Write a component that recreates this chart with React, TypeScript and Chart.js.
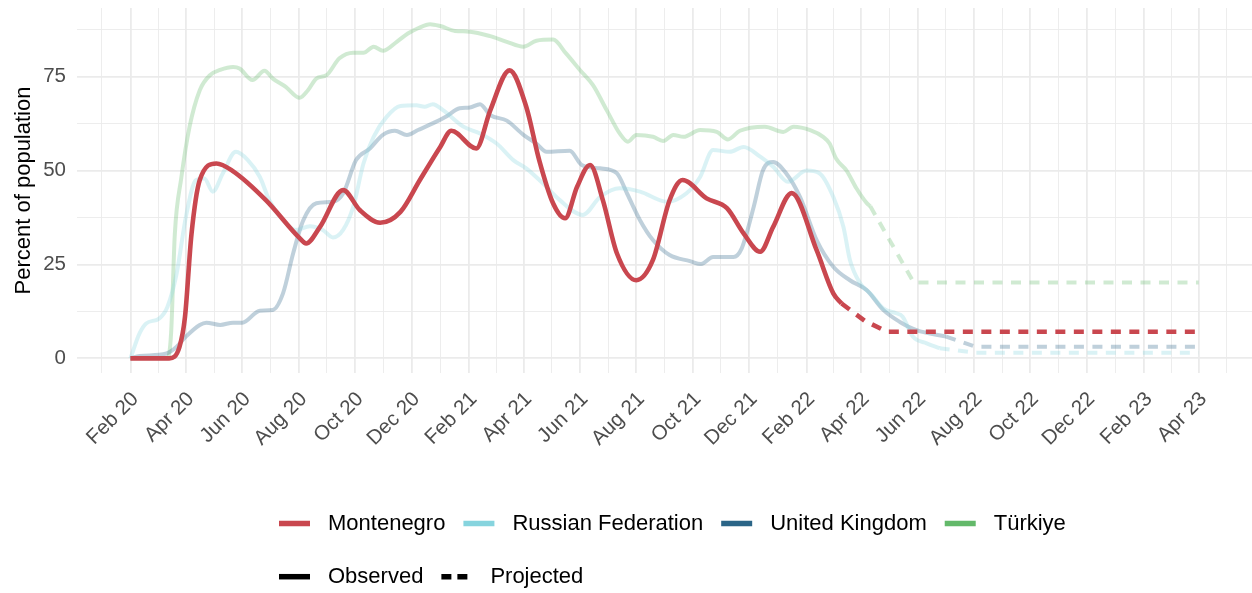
import React, { useEffect, useRef } from 'react';
import { Chart, registerables } from 'chart.js';

Chart.register(...registerables);

// ---------- Data ----------
const countries = ['Montenegro', 'Russian Federation', 'United Kingdom', 'Türkiye'];
const countryColors = ['#C9474F', '#86D4DE', '#2B6587', '#63B96A'];
const countryAlphas = [1, 0.3, 0.3, 0.3];

const montenegroObsDates = ['2020-02-01','2020-03-14','2020-03-25','2020-03-31','2020-04-07','2020-04-16','2020-05-04','2020-05-21','2020-06-27','2020-08-02','2020-08-09','2020-08-24','2020-09-18','2020-10-06','2020-10-28','2020-11-19','2020-12-10','2021-01-01','2021-01-13','2021-02-09','2021-02-24','2021-03-17','2021-04-04','2021-04-18','2021-05-03','2021-05-16','2021-05-29','2021-06-12','2021-06-26','2021-07-11','2021-08-01','2021-08-19','2021-09-06','2021-09-20','2021-10-16','2021-11-07','2021-11-25','2021-12-13','2021-12-27','2022-01-16','2022-02-12','2022-03-02','2022-03-11'];
const montenegroObsValues = [0,0,3,11,33,47.5,51.9,50,42,32,30.6,35,44.8,39.5,36.1,39,47.5,56.3,60.6,55.9,66,76.7,67,52.8,41.3,37.3,45.7,51.5,42,28,20.8,26.2,42.1,47.5,42.6,40,33.3,28.4,35,44,28.8,17.3,14.6];
const montenegroProjDates = ['2022-03-11','2022-04-05','2022-04-29','2023-04-01'];
const montenegroProjValues = [14.6,10,7.1,7.1];

const russiaObsDates = ['2020-02-01','2020-02-11','2020-02-18','2020-03-03','2020-03-12','2020-03-22','2020-04-01','2020-04-12','2020-04-21','2020-04-30','2020-05-11','2020-05-25','2020-06-07','2020-06-20','2020-06-30','2020-07-15','2020-07-29','2020-08-13','2020-08-27','2020-09-07','2020-09-18','2020-09-29','2020-10-10','2020-10-21','2020-11-04','2020-11-19','2020-12-06','2020-12-15','2020-12-24','2021-01-04','2021-01-26','2021-02-13','2021-03-03','2021-03-21','2021-04-04','2021-04-22','2021-05-10','2021-06-04','2021-06-23','2021-07-14','2021-08-05','2021-09-03','2021-09-24','2021-10-09','2021-10-23','2021-11-10','2021-11-25','2021-12-13','2021-12-27','2022-01-12','2022-02-01','2022-02-15','2022-03-02','2022-03-13','2022-03-20','2022-03-31','2022-04-11','2022-04-25','2022-05-09','2022-05-16','2022-05-27','2022-06-11','2022-06-25'];
const russiaObsValues = [0,6.7,9.3,10.6,13.7,22.6,37.7,47.5,47.9,44.4,49.3,55,52.8,48.3,42.2,36.8,34.2,35.2,34.2,32.2,34.2,40.4,51.9,59,64.3,67.2,67.4,67,67.7,66.1,61.7,59.9,57.2,52.8,50.6,46.6,42.2,38.2,43,45.3,44.4,41.7,43.9,48.3,55.5,55,56.3,53.7,51,47,50,49.3,43,35,26.2,20,17.3,13.3,12,11.1,5.8,4,2.7];
const russiaProjDates = ['2022-06-25','2022-08-03','2023-04-01'];
const russiaProjValues = [2.7,1.5,1.5];

const ukObsDates = ['2020-02-01','2020-02-11','2020-03-11','2020-03-22','2020-04-01','2020-04-16','2020-04-23','2020-05-08','2020-05-22','2020-06-01','2020-06-20','2020-07-04','2020-07-15','2020-07-26','2020-08-06','2020-08-20','2020-09-07','2020-09-18','2020-10-02','2020-10-17','2020-10-31','2020-11-13','2020-11-26','2020-12-08','2020-12-25','2021-01-08','2021-01-22','2021-02-02','2021-02-13','2021-02-24','2021-03-14','2021-04-01','2021-04-15','2021-04-26','2021-05-21','2021-06-03','2021-06-23','2021-07-11','2021-07-22','2021-08-05','2021-08-19','2021-09-06','2021-09-28','2021-10-10','2021-10-23','2021-11-14','2021-11-23','2021-12-06','2021-12-16','2021-12-27','2022-01-10','2022-01-25','2022-02-12','2022-03-02','2022-03-20','2022-04-07','2022-04-25','2022-05-13','2022-05-31','2022-07-02'];
const ukObsValues = [0,0.6,1.3,3.1,5.8,8.9,9.5,8.9,9.5,9.5,12.7,12.9,17.3,28,36.8,41.3,41.7,43.9,52.8,55.9,59.5,60.6,59.5,60.8,62.7,64.5,66.6,66.8,67.7,64.8,63.3,59.5,57.2,55,55.3,51.5,50.6,49.3,43.9,36.8,31.5,27.5,25.9,25.1,27,27,29.3,40.4,50.1,52.3,49.3,43,31.5,24.4,20.8,18.2,12.9,9.7,7.5,5.8];
const ukProjDates = ['2022-07-02','2022-08-03','2023-04-01'];
const ukProjValues = [5.8,3.1,3.1];

const turkiyeObsDates = ['2020-02-01','2020-03-12','2020-03-16','2020-03-20','2020-03-27','2020-04-05','2020-04-16','2020-04-27','2020-05-08','2020-05-22','2020-05-29','2020-06-12','2020-06-25','2020-07-04','2020-07-18','2020-08-02','2020-08-11','2020-08-20','2020-08-31','2020-09-14','2020-09-29','2020-10-10','2020-10-21','2020-10-31','2020-11-15','2020-11-27','2020-12-08','2020-12-21','2021-01-01','2021-01-17','2021-02-02','2021-02-24','2021-03-14','2021-04-01','2021-04-15','2021-05-03','2021-05-17','2021-06-01','2021-06-15','2021-06-30','2021-07-14','2021-07-23','2021-08-01','2021-08-19','2021-08-30','2021-09-10','2021-09-21','2021-10-09','2021-10-27','2021-11-08','2021-11-21','2021-12-18','2022-01-07','2022-01-18','2022-02-05','2022-02-19','2022-02-26','2022-03-05','2022-03-16','2022-03-27','2022-04-07','2022-04-11'];
const turkiyeObsValues = [0,0,6.7,33,48,61.7,71.4,75.4,76.8,77.6,77.2,74.1,76.6,74.5,72.3,69.4,71.4,74.5,75.4,79.9,81.4,81.4,83,81.9,84.3,86.5,87.9,89,88.5,87.2,87,85.8,84.3,83,84.6,84.9,81.2,76.8,72.8,66.1,59.9,57.7,59.5,59,57.9,59.5,59,60.8,60.3,58.3,60.6,61.7,60.3,61.7,60.8,59,57.2,53.2,50.1,45.3,41.4,40.5];
const turkiyeProjDates = ['2022-04-11','2022-05-28','2023-04-01'];
const turkiyeProjValues = [40.5,20.2,20.2];

const majorTickDates = ['2020-02-01','2020-04-01','2020-06-01','2020-08-01','2020-10-01','2020-12-01','2021-02-01','2021-04-01','2021-06-01','2021-08-01','2021-10-01','2021-12-01','2022-02-01','2022-04-01','2022-06-01','2022-08-01','2022-10-01','2022-12-01','2023-02-01','2023-04-01'];
const majorTickLabels = ['Feb 20','Apr 20','Jun 20','Aug 20','Oct 20','Dec 20','Feb 21','Apr 21','Jun 21','Aug 21','Oct 21','Dec 21','Feb 22','Apr 22','Jun 22','Aug 22','Oct 22','Dec 22','Feb 23','Apr 23'];
const yMajorTicks = [0, 25, 50, 75];
const yMinorTicks = [12.5, 37.5, 62.5, 87.5];

const lineTypes = ['Observed', 'Projected'];

// ---------- Helpers ----------
const BASE = Date.UTC(2020, 1, 1);
const dayOf = (s: string) => {
  const [y, m, d] = s.split('-').map(Number);
  return (Date.UTC(y, m - 1, d) - BASE) / 86400000;
};
const toPoints = (dates: string[], values: number[]) => dates.map((d, i) => ({ x: dayOf(d), y: values[i] }));
const rgba = (hex: string, a: number) => {
  const n = parseInt(hex.slice(1), 16);
  return `rgba(${(n >> 16) & 255},${(n >> 8) & 255},${n & 255},${a})`;
};

const FONT = '"Liberation Sans", Arial, Helvetica, sans-serif';

const majorDays = majorTickDates.map(dayOf);
const minorDays: number[] = [];
minorDays.push((dayOf('2019-12-01') + majorDays[0]) / 2);
for (let i = 0; i < majorDays.length - 1; i++) minorDays.push((majorDays[i] + majorDays[i + 1]) / 2);
minorDays.push((majorDays[majorDays.length - 1] + dayOf('2023-06-01')) / 2);

const xDataMin = dayOf(majorTickDates[0]);
const xDataMax = dayOf(majorTickDates[majorTickDates.length - 1]);
const xPad = (xDataMax - xDataMin) * 0.05;

const obsSeries = [
  toPoints(montenegroObsDates, montenegroObsValues),
  toPoints(russiaObsDates, russiaObsValues),
  toPoints(ukObsDates, ukObsValues),
  toPoints(turkiyeObsDates, turkiyeObsValues),
];
const projSeries = [
  toPoints(montenegroProjDates, montenegroProjValues),
  toPoints(russiaProjDates, russiaProjValues),
  toPoints(ukProjDates, ukProjValues),
  toPoints(turkiyeProjDates, turkiyeProjValues),
];

const X_LABEL_DX = 9;
const X_LABEL_Y = 400;
const TICK_FONT_SIZE = 20.5;

const xLabelsPlugin = {
  id: 'xLabels',
  afterDraw(chart: any) {
    const { ctx, scales } = chart;
    const xs = scales.x;
    ctx.save();
    ctx.fillStyle = '#4D4D4D';
    ctx.font = `${TICK_FONT_SIZE}px ${FONT}`;
    ctx.textAlign = 'right';
    ctx.textBaseline = 'alphabetic';
    majorDays.forEach((d, i) => {
      const px = xs.getPixelForValue(d);
      ctx.save();
      ctx.translate(px + X_LABEL_DX, X_LABEL_Y);
      ctx.rotate(-Math.PI / 4);
      ctx.fillText(majorTickLabels[i], 0, 0);
      ctx.restore();
    });
    ctx.restore();
  },
};

const legendPlugin = {
  id: 'customLegend',
  afterDraw(chart: any) {
    const { ctx } = chart;
    ctx.save();
    ctx.font = `22px ${FONT}`;
    ctx.textBaseline = 'middle';
    ctx.textAlign = 'left';
    const keyW = 31;
    const gap = 18;
    const startX = 279;
    let x = startX;
    const y1 = 523.5;
    countries.forEach((name, i) => {
      ctx.beginPath();
      ctx.strokeStyle = countryColors[i];
      ctx.lineWidth = 5.5;
      ctx.setLineDash([]);
      ctx.moveTo(x, y1);
      ctx.lineTo(x + keyW, y1);
      ctx.stroke();
      x += keyW + gap;
      ctx.fillStyle = '#000';
      ctx.fillText(name, x, y1);
      x += ctx.measureText(name).width + gap;
    });
    x = startX;
    const y2 = 576.7;
    lineTypes.forEach((name, i) => {
      ctx.beginPath();
      ctx.strokeStyle = '#000';
      ctx.lineWidth = 5.5;
      ctx.setLineDash(i === 0 ? [] : [10, 6]);
      ctx.moveTo(x, y2);
      ctx.lineTo(x + keyW, y2);
      ctx.stroke();
      x += keyW + gap;
      ctx.setLineDash([]);
      ctx.fillStyle = '#000';
      ctx.fillText(name, x, y2);
      x += ctx.measureText(name).width + gap;
    });
    ctx.restore();
  },
};

export default function App() {
  const canvasRef = useRef<HTMLCanvasElement | null>(null);

  useEffect(() => {
    document.body.style.margin = '0';
    const canvas = canvasRef.current;
    if (!canvas) return;

    const datasets: any[] = [];
    countries.forEach((c, i) => {
      const color = rgba(countryColors[i], countryAlphas[i]);
      const width = i === 0 ? 4.6 : 4;
      datasets.push({
        label: `${c} observed`,
        data: obsSeries[i],
        borderColor: color,
        backgroundColor: color,
        borderWidth: width,
        pointRadius: 0,
        cubicInterpolationMode: 'monotone',
        fill: false,
        order: i,
      });
      datasets.push({
        label: `${c} projected`,
        data: projSeries[i],
        borderColor: color,
        backgroundColor: color,
        borderWidth: width,
        borderDash: [10, 8.5],
        pointRadius: 0,
        tension: 0,
        fill: false,
        order: i,
      });
    });

    const chart = new Chart(canvas, {
      type: 'line',
      data: { datasets },
      options: {
        animation: false,
        responsive: false,
        devicePixelRatio: 1,
        layout: { padding: { top: 8, left: 0, right: 0, bottom: 0 } },
        plugins: { legend: { display: false }, tooltip: { enabled: false } },
        scales: {
          x: {
            type: 'linear',
            min: xDataMin - xPad,
            max: xDataMax + xPad,
            border: { display: false },
            grid: {
              color: '#EBEBEB',
              drawTicks: false,
              lineWidth: (ctx: any) => (majorDays.includes(ctx.tick?.value) ? 1.8 : 0.9),
            },
            ticks: { display: false },
            afterBuildTicks: (scale: any) => {
              scale.ticks = [...majorDays, ...minorDays].sort((a, b) => a - b).map((v) => ({ value: v }));
            },
            afterFit: (scale: any) => {
              scale.height = 220;
              scale.paddingLeft = 0;
              scale.paddingRight = 0;
              scale.paddingTop = 0;
              scale.paddingBottom = 0;
            },
          },
          y: {
            type: 'linear',
            min: -3.9,
            max: 93.3,
            border: { display: false },
            grid: {
              color: '#EBEBEB',
              drawTicks: false,
              lineWidth: (ctx: any) => (yMajorTicks.includes(ctx.tick?.value) ? 1.8 : 0.9),
            },
            afterBuildTicks: (scale: any) => {
              scale.ticks = [...yMajorTicks, ...yMinorTicks].sort((a, b) => a - b).map((v) => ({ value: v }));
            },
            ticks: {
              padding: 11,
              color: '#4D4D4D',
              font: { family: FONT, size: TICK_FONT_SIZE },
              callback: (v: any) => (yMajorTicks.includes(Number(v)) ? String(v) : ''),
            },
            title: {
              display: true,
              text: 'Percent of population',
              color: '#000',
              font: { family: FONT, size: 22 },
              padding: { top: 11, bottom: 0 },
            },
            afterFit: (scale: any) => {
              scale.width = 77;
              scale.paddingTop = 0;
              scale.paddingBottom = 0;
              scale.paddingLeft = 0;
              scale.paddingRight = 0;
            },
          },
        },
      },
      plugins: [xLabelsPlugin, legendPlugin],
    } as any);

    return () => chart.destroy();
  }, []);

  return (
    <div style={{ position: 'fixed', left: 0, top: 0, width: 1252, height: 593, background: '#fff' }}>
      <canvas ref={canvasRef} width={1252} height={593} style={{ display: 'block' }} />
    </div>
  );
}
